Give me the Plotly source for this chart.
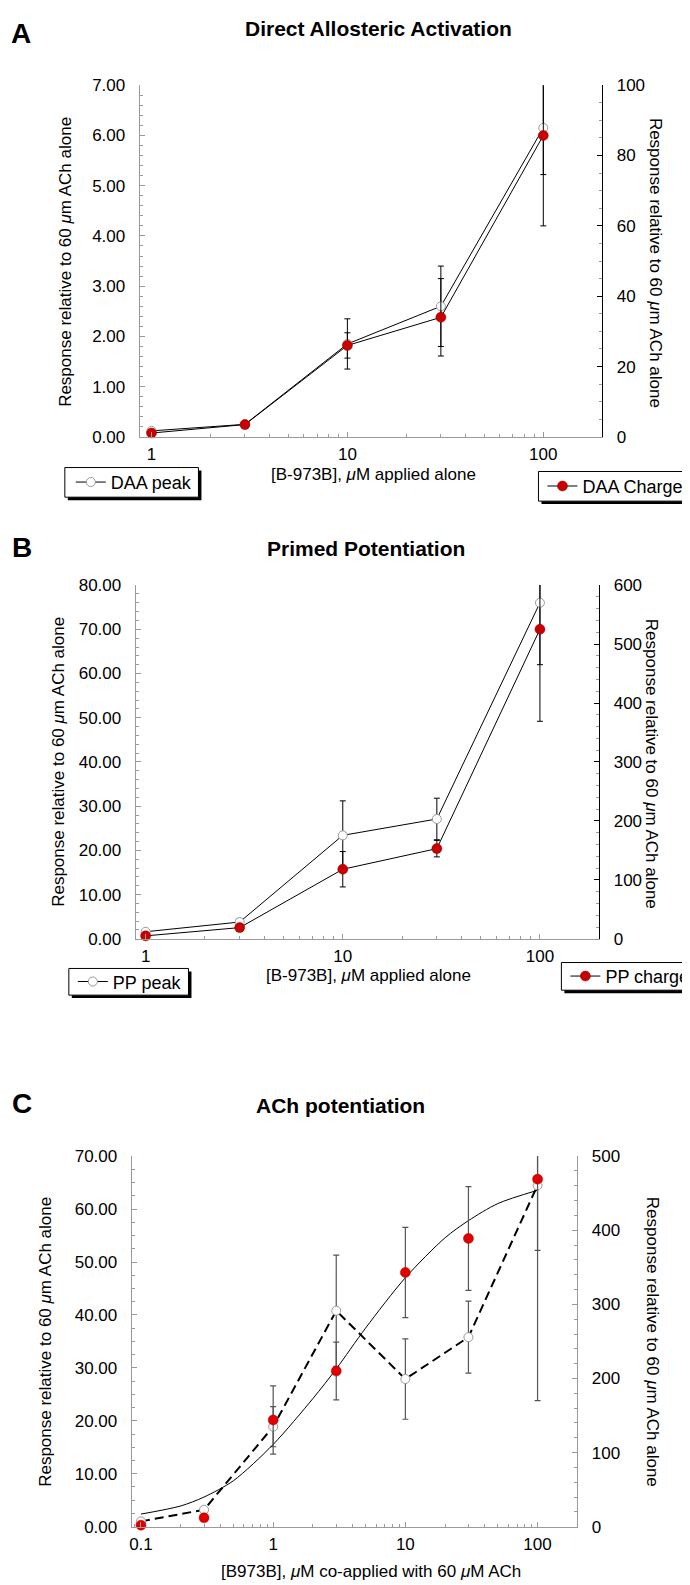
import math
import plotly.graph_objects as go

W, H = 690, 1585

# ---------------- data ----------------
# Panel A: Direct Allosteric Activation
a_x = [1, 3, 10, 30, 100]
a_peak = [0.12, 0.25, 1.85, 2.60, 6.15]
a_peak_err = [0.05, 0.03, 0.50, 0.80, 0.93]
a_charge = [1.1, 3.5, 26.0, 34.0, 85.7]
a_charge_err = [0.7, 0.7, 3.6, 11.0, 25.7]

# Panel B: Primed Potentiation
b_x = [1, 3, 10, 30, 100]
b_peak = [1.6, 3.8, 23.4, 27.1, 76.0]
b_peak_err = [0.3, 0.8, 7.8, 4.7, 14.0]
b_charge = [5, 19, 118, 153, 525]
b_charge_err = [2, 4, 30, 14, 156]

# Panel C: ACh potentiation
c_x = [0.1, 0.3, 1, 3, 10, 30, 100]
c_peak = [1.0, 3.2, 18.9, 40.8, 27.9, 35.8, 64.5]
c_peak_err = [0.0, 0.5, 3.8, 10.5, 7.6, 6.8, 12.3]
c_charge = [2, 12, 144, 210, 343, 389, 469]
c_charge_err = [0, 2, 46, 39, 61, 70, 299]
c_fit_x = [0.1, 0.2, 0.3, 0.5, 1, 2, 3, 5, 10, 20, 30, 50, 100]
c_fit = [17, 28, 40, 62, 111, 173, 213, 268, 336, 390, 413, 436, 454]

ab_ticks = [1, 10, 100]
ab_ticktext = ["1", "10", "100"]
c_ticks = [0.1, 1, 10, 100]
c_ticktext = ["0.1", "1", "10", "100"]

titles = ["Direct Allosteric Activation", "Primed Potentiation", "ACh potentiation"]
letters = ["A", "B", "C"]
ylab = "Response relative to 60 <i>\u03bc</i>m ACh alone"
xlab_ab = "[B-973B], <i>\u03bc</i>M applied alone"
xlab_c = "[B973B], <i>\u03bc</i>M co-applied with 60 <i>\u03bc</i>M ACh"

# ---------------- helpers ----------------
FONT = "Liberation Sans, Arial, Helvetica, sans-serif"
RED = "#c80000"
GREY = "#9a9a9a"


def dx(l, r):
    return [l / W, r / W]


def dy(t, b):
    return [1 - b / H, 1 - t / H]


def px(x):
    return x / W


def py(y):
    return 1 - y / H


fig = go.Figure()


def add_pair(xv, peak, peak_err, charge, charge_err, xa, ya, ya2, lg1, lg2,
             name1, name2, ebcol):
    fig.add_trace(go.Scatter(
        x=xv, y=peak, xaxis=xa, yaxis=ya, name=name1, legend=lg1,
        mode="lines+markers", cliponaxis=False,
        line=dict(color="black", width=1),
        marker=dict(symbol="circle", size=9, color="white",
                    line=dict(color=GREY, width=1)),
        error_y=dict(type="data", array=peak_err, color=ebcol,
                     thickness=1, width=3),
    ))
    fig.add_trace(go.Scatter(
        x=xv, y=charge, xaxis=xa, yaxis=ya2, name=name2, legend=lg2,
        mode="lines+markers", cliponaxis=False,
        line=dict(color="black", width=1),
        marker=dict(symbol="circle", size=10, color=RED,
                    line=dict(color="#900000", width=0.5)),
        error_y=dict(type="data", array=charge_err, color=ebcol,
                     thickness=1, width=3),
    ))


add_pair(a_x, a_peak, a_peak_err, a_charge, a_charge_err,
         "x", "y", "y2", "legend", "legend2", "DAA peak", "DAA Charge", "black")
add_pair(b_x, b_peak, b_peak_err, b_charge, b_charge_err,
         "x2", "y3", "y4", "legend3", "legend4", "PP peak", "PP charge", "black")

# Panel C
fig.add_trace(go.Scatter(
    x=c_fit_x, y=c_fit, xaxis="x3", yaxis="y6", mode="lines",
    line=dict(color="black", width=1, shape="spline", smoothing=0.8),
    showlegend=False, hoverinfo="skip"))
fig.add_trace(go.Scatter(
    x=c_x, y=c_peak, xaxis="x3", yaxis="y5", mode="lines+markers",
    cliponaxis=False, showlegend=False,
    line=dict(color="black", width=2, dash="9px,5px"),
    marker=dict(symbol="circle", size=9, color="white",
                line=dict(color=GREY, width=1)),
    error_y=dict(type="data", array=c_peak_err, color="#555555",
                 thickness=1.2, width=3)))
fig.add_trace(go.Scatter(
    x=c_x, y=c_charge, xaxis="x3", yaxis="y6", mode="markers",
    cliponaxis=False, showlegend=False,
    marker=dict(symbol="circle", size=10, color="#e00000",
                line=dict(color="#b00000", width=0.5)),
    error_y=dict(type="data", array=c_charge_err, color="#555555",
                 thickness=1.2, width=3)))


# ---------------- axes ----------------
def log_minor(lo, hi):
    vals = []
    for e in range(lo, hi):
        for m in range(2, 10):
            vals.append(m * 10 ** e)
    return vals


def xaxis(dom, rng, tv, tt, anchor, minor_vals):
    return dict(domain=dom, type="log", range=rng, anchor=anchor,
                showline=True, linecolor=GREY, linewidth=1, mirror=False,
                showgrid=False, zeroline=False,
                tickvals=tv, ticktext=tt, ticks="inside", ticklen=5,
                tickcolor=GREY, ticklabelstandoff=2,
                minor=dict(tickvals=minor_vals, ticks="inside", ticklen=3,
                           tickcolor=GREY),
                tickfont=dict(size=17, family=FONT, color="black"))


def yleft(dom, rng, dt, mdt, anchor):
    return dict(domain=dom, range=rng, anchor=anchor, showline=True,
                linecolor=GREY, linewidth=1, showgrid=False, zeroline=False,
                dtick=dt, tick0=0, tickformat=".2f", ticks="inside",
                ticklen=5, tickcolor=GREY, ticklabelstandoff=10,
                minor=dict(dtick=mdt, ticks="inside", ticklen=3,
                           tickcolor=GREY),
                tickfont=dict(size=17, family=FONT, color="black"))


def yright(over, rng, dt, mdt, anchor, col):
    return dict(overlaying=over, side="right", range=rng, anchor=anchor,
                showline=True, linecolor=col, linewidth=1, showgrid=False,
                zeroline=False, dtick=dt, tick0=0, ticks="inside",
                ticklen=5, tickcolor=col, ticklabelstandoff=10,
                minor=dict(dtick=mdt, ticks="inside", ticklen=3,
                           tickcolor=GREY),
                tickfont=dict(size=17, family=FONT, color="black"))


fig.update_layout(
    xaxis=xaxis(dx(130, 594), [math.log10(0.87), math.log10(200)],
                ab_ticks, ab_ticktext, "y", log_minor(0, 3)),
    yaxis=yleft(dy(69, 425), [0, 7], 1, 0.2, "x"),
    yaxis2=yright("y", [0, 100], 20, 5, "x", "black"),
    xaxis2=xaxis(dx(126, 591), [math.log10(0.89), math.log10(200)],
                 ab_ticks, ab_ticktext, "y3", log_minor(0, 3)),
    yaxis3=yleft(dy(575, 933), [0, 80], 10, 2, "x2"),
    yaxis4=yright("y3", [0, 600], 100, 20, "x2", "black"),
    xaxis3=xaxis(dx(122, 569), [math.log10(0.085), math.log10(200)],
                 c_ticks, c_ticktext, "y5", log_minor(-2, 3)),
    yaxis5=yleft(dy(1153, 1528), [0, 70], 10, 2.5, "x3"),
    yaxis6=yright("y5", [0, 500], 100, 20, "x3", GREY),
)


# ---------------- legends (framed boxes with drop shadow) ----------------
def leg(x, yc):
    return dict(x=px(x), y=py(yc), xanchor="left", yanchor="middle",
                bgcolor="rgba(0,0,0,0)", borderwidth=0,
                font=dict(size=18, family=FONT, color="black"),
                tracegroupgap=0)


fig.update_layout(
    legend=leg(61, 471), legend2=leg(534, 475),
    legend3=leg(63, 976.5), legend4=leg(557, 971),
)

frames = [(55, 456, 189, 486), (530, 460, 681, 490),
          (59, 963, 179, 990), (553, 957, 688, 985)]
shapes = []
for (l, t, r, b) in frames:
    shapes.append(dict(type="rect", xref="paper", yref="paper",
                       x0=px(l + 3), x1=px(r + 3), y0=py(b + 3), y1=py(t + 3),
                       fillcolor="black", line=dict(width=0), layer="above"))
    shapes.append(dict(type="rect", xref="paper", yref="paper",
                       x0=px(l), x1=px(r), y0=py(b), y1=py(t),
                       fillcolor="white", line=dict(color="black", width=1),
                       layer="above"))

# ---------------- annotations ----------------
ann = []


def text(x, y, s, size=17, angle=0, bold=False):
    if bold:
        s = "<b>" + s + "</b>"
    ann.append(dict(x=px(x), y=py(y), xref="paper", yref="paper", text=s,
                    showarrow=False, textangle=angle, xanchor="center",
                    yanchor="middle",
                    font=dict(size=size, family=FONT, color="black")))


# panel letters and titles
text(11, 17, letters[0], size=28, bold=True)
text(12, 537, letters[1], size=28, bold=True)
text(12, 1100, letters[2], size=28, bold=True)
text(370, 12, titles[0], size=21, bold=True)
text(357, 538, titles[1], size=21, bold=True)
text(331, 1102, titles[2], size=21, bold=True)

# axis titles
text(55, 248, ylab, angle=-90)
text(648, 249, ylab, angle=90)
text(365, 463, xlab_ab)
text(49, 754, ylab, angle=-90)
text(643, 756, ylab, angle=90)
text(360, 970, xlab_ab)
text(36, 1341, ylab, angle=-90)
text(644, 1341, ylab, angle=90)
text(362, 1573, xlab_c)

fig.update_layout(
    width=W, height=H, margin=dict(l=0, r=0, t=0, b=0),
    paper_bgcolor="white", plot_bgcolor="white",
    font=dict(family=FONT, size=17, color="black"),
    annotations=ann, shapes=shapes,
)

fig.write_html("out.html")
